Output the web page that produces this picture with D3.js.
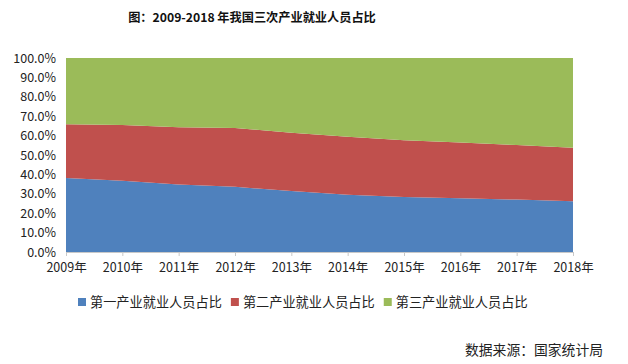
<!DOCTYPE html>
<html><head><meta charset="utf-8">
<script src="https://cdn.jsdelivr.net/npm/d3@7"></script>
<style>body{margin:0;background:#fff;} svg{display:block;} text{font-family:"Noto Sans CJK SC","Noto Sans",sans-serif;}</style>
</head><body>
<svg id="c" width="628" height="364"></svg>
<script>
const years = ["2009年","2010年","2011年","2012年","2013年","2014年","2015年","2016年","2017年","2018年"];
const primary = [38.1,36.7,34.8,33.6,31.4,29.5,28.3,27.7,27.0,26.1];
const secondary = [27.8,28.7,29.5,30.3,30.1,29.9,29.3,28.8,28.1,27.6];
const tertiary = [34.1,34.6,35.7,36.1,38.5,40.6,42.4,43.5,44.9,46.3];
const seriesNames = ["第一产业就业人员占比","第二产业就业人员占比","第三产业就业人员占比"];
const colors = ["#4F81BD","#C0504D","#9BBB59"];
const yTicks = [0,10,20,30,40,50,60,70,80,90,100];

const svg = d3.select("#c");
const L=66,R=573,T=58,B=252;
const x = d3.scalePoint().domain(years).range([L,R]);
const y = d3.scaleLinear().domain([0,100]).range([B,T]);
const rows = years.map((yr,i)=>({yr, s0:primary[i], s1:secondary[i], s2:tertiary[i]}));
const stack = d3.stack().keys(["s0","s1","s2"])(rows);
const area = d3.area().x(d=>x(d.data.yr)).y0(d=>y(d[0])).y1(d=>y(Math.min(100,d[1])));
svg.selectAll("path.a").data(stack).enter().append("path")
  .attr("d",area).attr("fill",(d,i)=>colors[i]);

// axes
const ya = svg.append("g").attr("transform",`translate(${L},0)`)
  .call(d3.axisLeft(y).tickValues(yTicks).tickFormat(d=>d.toFixed(1)+"%").tickSize(0).tickPadding(10));
ya.select(".domain").remove();
ya.selectAll("text").attr("font-size",12.5).attr("fill","#222");
const xa = svg.append("g").attr("transform",`translate(0,${B})`)
  .call(d3.axisBottom(x).tickSize(4).tickPadding(7));
xa.select(".domain").attr("stroke","#c8c8c8");
xa.selectAll("line").attr("stroke","#c8c8c8");
xa.selectAll("text").attr("font-size",12.5).attr("fill","#222");

// title
svg.append("text").attr("x",252).attr("y",22).attr("text-anchor","middle")
  .attr("font-size",12.2).attr("font-weight","bold").attr("fill","#111")
  .text("图：2009-2018 年我国三次产业就业人员占比");

// legend
const lg = svg.append("g").attr("transform","translate(78,302)");
let lx=0;
seriesNames.forEach((n,i)=>{
  const g = lg.append("g").attr("transform",`translate(${lx},0)`);
  g.append("rect").attr("x",0).attr("y",-4).attr("width",8).attr("height",8).attr("fill",colors[i]);
  const t = g.append("text").attr("x",12).attr("y",0).attr("dy","0.35em").attr("font-size",13.2).attr("fill","#222").text(n);
  lx += 12 + t.node().getComputedTextLength() + 9;
});

svg.append("text").attr("x",603).attr("y",355).attr("text-anchor","end")
  .attr("font-size",13.8).attr("fill","#222").text("数据来源：国家统计局");
</script>
</body></html>
